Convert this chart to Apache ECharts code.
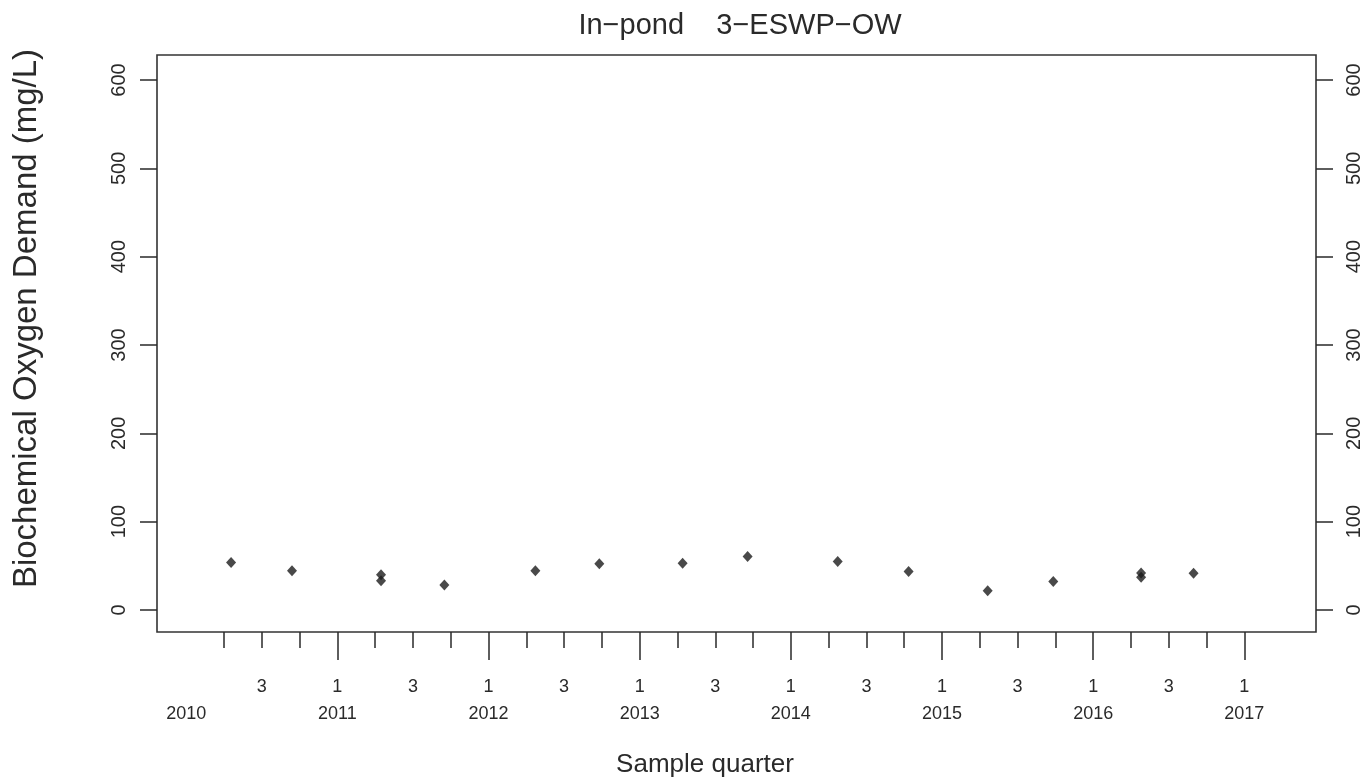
<!DOCTYPE html>
<html>
<head>
<meta charset="utf-8">
<script src="https://cdn.jsdelivr.net/npm/echarts@6/dist/echarts.min.js"></script>
<style>
  html, body { margin: 0; padding: 0; background: #ffffff; }
  #chart { width: 1364px; height: 778px; }
</style>
</head>
<body>
<div id="chart"></div>
<script>
// ---- data (sample time as decimal year, BOD in mg/L) ----
var sampleTimes = [2010.297, 2010.700, 2011.289, 2011.289, 2011.708, 2012.310, 2012.733,
                   2013.284, 2013.714, 2014.310, 2014.779, 2015.302, 2015.736, 2016.317,
                   2016.317, 2016.664];
var bodValues   = [53.8, 44.3, 39.8, 33.0, 28.4, 44.3, 52.3,
                   53.0, 60.6, 54.9, 43.5, 21.9, 32.2, 42.0,
                   37.0, 41.7];
var yTicks = [0, 100, 200, 300, 400, 500, 600];
var years = [2010, 2011, 2012, 2013, 2014, 2015, 2016, 2017];
var minorQuarterTicks = [2010.25, 2010.5, 2010.75, 2011.25, 2011.5, 2011.75, 2012.25, 2012.5, 2012.75,
                         2013.25, 2013.5, 2013.75, 2014.25, 2014.5, 2014.75, 2015.25, 2015.5, 2015.75,
                         2016.25, 2016.5, 2016.75];
var q3Labels = [2010.5, 2011.5, 2012.5, 2013.5, 2014.5, 2015.5, 2016.5];
var yearTicks = [2011, 2012, 2013, 2014, 2015, 2016, 2017];
var titleText = 'In\u2212pond    3\u2212ESWP\u2212OW';
var xTitle = 'Sample quarter';
var yTitle = 'Biochemical Oxygen Demand (mg/L)';

var points = sampleTimes.map(function (t, i) { return [t, bodValues[i]]; });

var FONT = '"Liberation Sans", Arial, Helvetica, sans-serif';
var INK = '#2a2a2a';
var X_MIN = 2009.807, X_MAX = 2017.474;
var Y_MIN = -24.9, Y_MAX = 628.3;

var chart = echarts.init(document.getElementById('chart'), null, { renderer: 'canvas' });

var yAxisCommon = function (pos) {
  return {
    type: 'value',
    position: pos,
    min: Y_MIN,
    max: Y_MAX,
    splitLine: { show: false },
    axisLine: { show: false, onZero: false },
    axisTick: { show: true, inside: false, length: 17, customValues: yTicks,
                lineStyle: { color: INK, width: 1.5 } },
    axisLabel: { show: true, customValues: yTicks, rotate: 90, margin: 28,
                 fontFamily: FONT, fontSize: 20, color: INK }
  };
};

var leftY = yAxisCommon('left');
leftY.name = yTitle;
leftY.nameLocation = 'middle';
leftY.nameRotate = 90;
leftY.nameGap = 114;
leftY.nameTextStyle = { fontFamily: FONT, fontSize: 33, color: INK, padding: [0, 0, 0, 50] };

var option = {
  backgroundColor: '#ffffff',
  animation: false,
  title: [
    { text: titleText, left: 735, top: 6, textAlign: 'center',
      textStyle: { fontFamily: FONT, fontSize: 29, fontWeight: 'normal', color: INK } },
    { text: xTitle, left: 700, top: 747, textAlign: 'center',
      textStyle: { fontFamily: FONT, fontSize: 26, fontWeight: 'normal', color: INK } }
  ],
  grid: {
    left: 157, right: 47, top: 55, bottom: 146,
    show: true, borderColor: '#333333', borderWidth: 1.6, backgroundColor: 'transparent'
  },
  xAxis: [
    {
      type: 'value', position: 'bottom', min: X_MIN, max: X_MAX,
      splitLine: { show: false },
      axisLine: { show: false, onZero: false },
      axisTick: { show: true, inside: false, length: 16, customValues: minorQuarterTicks,
                  lineStyle: { color: INK, width: 1.5 } },
      axisLabel: { show: true, customValues: q3Labels, margin: 42, lineHeight: 27,
                   fontFamily: FONT, fontSize: 18, color: INK,
                   formatter: function () { return '3'; } }
    },
    {
      type: 'value', position: 'bottom', min: X_MIN, max: X_MAX,
      splitLine: { show: false },
      axisLine: { show: false, onZero: false },
      axisTick: { show: true, inside: false, length: 28, customValues: yearTicks,
                  lineStyle: { color: INK, width: 1.5 } },
      axisLabel: { show: true, customValues: years, margin: 42, lineHeight: 27,
                   fontFamily: FONT, fontSize: 18, color: INK,
                   formatter: function (v) {
                     var y = Math.round(v);
                     return (y === 2010 ? ' ' : '1') + '\n' + y;
                   } }
    }
  ],
  yAxis: [leftY, yAxisCommon('right')],
  series: [
    {
      type: 'scatter',
      xAxisIndex: 0,
      yAxisIndex: 0,
      data: points,
      symbol: 'diamond',
      symbolSize: [10, 11],
      itemStyle: { color: '#1c1c1c' }
    }
  ]
};

chart.setOption(option);
</script>
</body>
</html>
